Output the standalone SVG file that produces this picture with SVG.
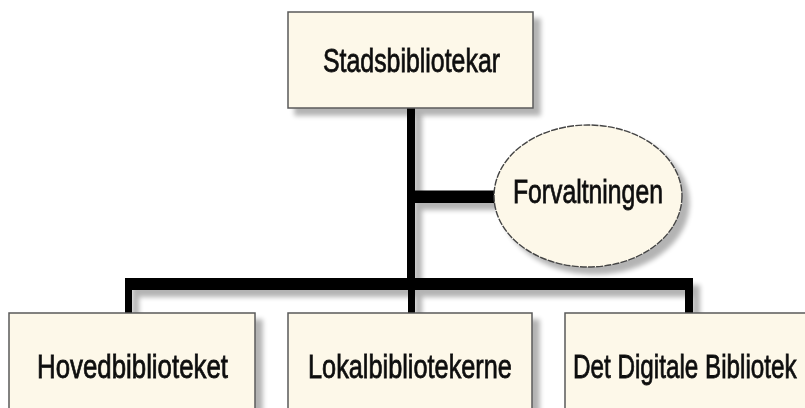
<svg xmlns="http://www.w3.org/2000/svg" width="805" height="408" viewBox="0 0 805 408">
<defs>
<filter id="sh" x="-10%" y="-10%" width="130%" height="130%">
<feGaussianBlur in="SourceAlpha" stdDeviation="2.5" result="b"/>
<feOffset in="b" dx="7" dy="7" result="o"/>
<feComponentTransfer in="o" result="s"><feFuncA type="linear" slope="0.3"/></feComponentTransfer>
<feMerge><feMergeNode in="s"/><feMergeNode in="SourceGraphic"/></feMerge>
</filter>
<style>
.box{fill:#fdf8e9;stroke:#5a5a5a;stroke-width:1.5}
.ell{fill:#fdf8e9;stroke:#444;stroke-width:1.4;stroke-dasharray:7 1.2}
.ln{fill:#000}
.t{font-family:"Liberation Sans",Arial,sans-serif;font-size:33px;fill:#111;stroke:#111;stroke-width:0.8}
</style>
</defs>
<rect width="805" height="408" fill="#fff"/>
<g id="connectors" filter="url(#sh)">
<rect class="ln" x="407" y="108" width="8" height="182"/>
<rect class="ln" x="407" y="190.5" width="90" height="12.5"/>
<rect class="ln" x="125" y="278" width="568" height="12"/>
<rect class="ln" x="125" y="278" width="7" height="36"/>
<rect class="ln" x="408" y="278" width="7" height="36"/>
<rect class="ln" x="685" y="278" width="8" height="36"/>
</g>
<g id="stadsbibliotekar" filter="url(#sh)">
<rect class="box" x="288" y="12" width="245" height="96"/>
<text class="t" transform="translate(323,72) scale(0.754,1)">Stadsbibliotekar</text>
</g>
<g id="forvaltningen" filter="url(#sh)">
<ellipse class="ell" cx="588" cy="196" rx="94" ry="71"/>
<text class="t" transform="translate(513,203) scale(0.75,1)">Forvaltningen</text>
</g>
<g id="hovedbiblioteket" filter="url(#sh)">
<rect class="box" x="9" y="313" width="246" height="110"/>
<text class="t" transform="translate(37,378) scale(0.783,1)">Hovedbiblioteket</text>
</g>
<g id="lokalbibliotekerne" filter="url(#sh)">
<rect class="box" x="288" y="313" width="244" height="110"/>
<text class="t" transform="translate(308,378) scale(0.767,1)">Lokalbibliotekerne</text>
</g>
<g id="det-digitale-bibliotek" filter="url(#sh)">
<rect class="box" x="565" y="313" width="260" height="110"/>
<text class="t" transform="translate(573,378) scale(0.735,1)">Det Digitale Bibliotek</text>
</g>
</svg>
